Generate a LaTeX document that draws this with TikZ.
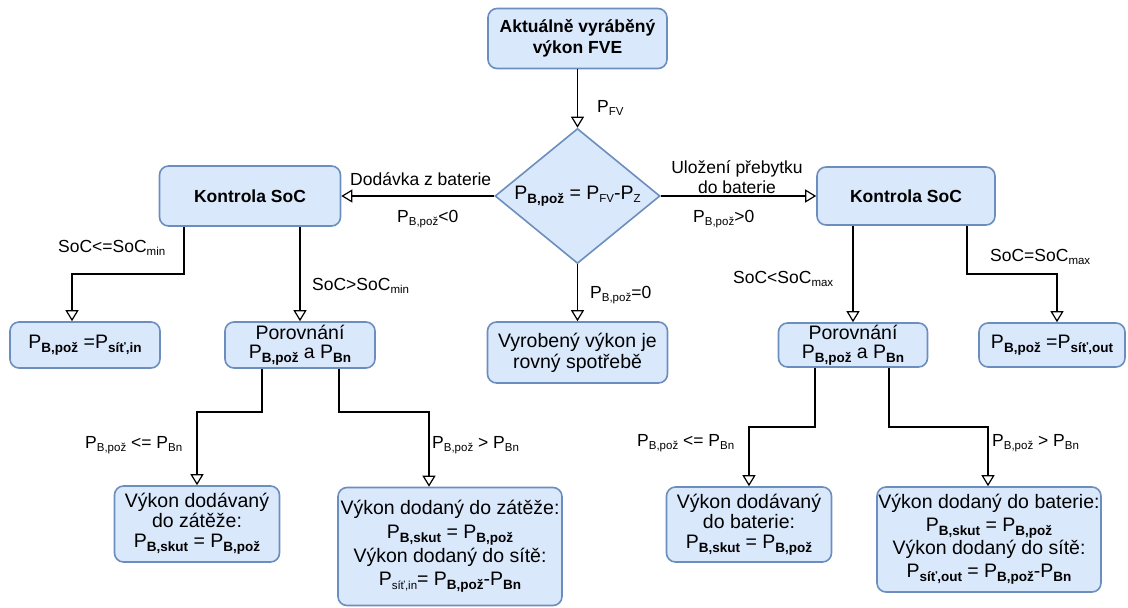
\documentclass[tikz,border=0pt]{standalone}
\usepackage{fontspec}
\setmainfont{Liberation Sans}
\usetikzlibrary{shapes.geometric,arrows.meta}
\definecolor{boxfill}{HTML}{DAE8FC}
\definecolor{boxline}{HTML}{6C8EBF}
% lowered, smaller index text for connector labels
\newcommand\sbx[1]{\raisebox{-3.5pt}{\fontsize{11.5}{11.5}\selectfont #1}}
% lowered, bold index text inside the boxes
\newcommand\sbb[1]{\raisebox{-4pt}{\fontsize{13.5}{13.5}\selectfont\bfseries #1}}

\begin{document}
\begin{tikzpicture}[x=1pt,y=-1pt,
  font=\fontsize{17.5}{20.5}\selectfont,
  box/.style={draw=boxline, fill=boxfill, line width=1.6pt, rounded corners=9pt,
    align=center, font=\fontsize{19.5}{21}\selectfont, inner sep=1pt},
  headbox/.style={box, font=\fontsize{17.5}{21}\selectfont\bfseries},
  decision/.style={diamond, draw=boxline, fill=boxfill, line width=1.6pt,
    inner sep=0pt, label={[font=\fontsize{19.5}{21}\selectfont, inner sep=0pt]center:#1}},
  flow/.style={line width=1.2pt, -{Triangle[open, length=11pt, width=13pt, fill=white]}},
  lbl/.style={inner sep=0pt, align=center}]

\fill[white] (0,0) rectangle (1128,608);
\useasboundingbox (0,0) rectangle (1128,608);

% ---- nodes ----
\node[headbox, minimum width=179pt, minimum height=60pt] (src) at (577.5,38.5) {Aktuálně vyráběný\\výkon FVE};
\node[decision={P\sbb{B,pož} = P\sbx{FV}-P\sbx{Z}}, minimum width=165pt, minimum height=135pt] (dec) at (577.5,196) {};

\node[headbox, minimum width=181pt, minimum height=60pt] (kl) at (250,196) {Kontrola SoC};
\node[headbox, minimum width=178pt, minimum height=58pt] (kr) at (906,196) {Kontrola SoC};

\node[box, minimum width=150pt, minimum height=46pt] (gin) at (85,345) {P\sbb{B,pož} =P\sbb{síť,in}};
\node[box, minimum width=150pt, minimum height=46pt, font=\fontsize{19.5}{19.5}\selectfont] (cl) at (300,345) {Porovnání\\P\sbb{B,pož} a P\sbb{Bn}};
\node[box, minimum width=180pt, minimum height=61pt] (eq) at (577.5,352.5) {Vyrobený výkon je\\rovný spotřebě};
\node[box, minimum width=149pt, minimum height=44pt, font=\fontsize{19.5}{19.5}\selectfont] (cr) at (853,345) {Porovnání\\P\sbb{B,pož} a P\sbb{Bn}};
\node[box, minimum width=146pt, minimum height=44pt] (gout) at (1052,345) {P\sbb{B,pož} =P\sbb{síť,out}};

\node[box, minimum width=165pt, minimum height=76pt, font=\fontsize{19.5}{20}\selectfont] (ll) at (197,524) {Výkon dodávaný\\do zátěže:\\P\sbb{B,skut} = P\sbb{B,pož}};
\node[box, minimum width=224pt, minimum height=118pt] (lr) at (450,546.5)
  {Výkon dodaný do zátěže:\\[3pt]P\sbb{B,skut} = P\sbb{B,pož}\\[2pt]Výkon dodaný do sítě:\\[2pt]P\sbx{síť,in}= P\sbb{B,pož}-P\sbb{Bn}};
\node[box, minimum width=165pt, minimum height=75pt, font=\fontsize{19.5}{20}\selectfont] (rl) at (749,524.5) {Výkon dodávaný\\do baterie:\\P\sbb{B,skut} = P\sbb{B,pož}};
\node[box, minimum width=224pt, minimum height=105pt] (rr) at (989,539.5)
  {Výkon dodaný do baterie:\\[2pt]P\sbb{B,skut} = P\sbb{B,pož}\\[1pt]Výkon dodaný do sítě:\\[2pt]P\sbb{síť,out} = P\sbb{B,pož}-P\sbb{Bn}};

% ---- bend points ----
\coordinate (klA) at (184,274);  \coordinate (klB) at (72,274);
\coordinate (krA) at (967,274);  \coordinate (krB) at (1057,274);
\coordinate (clA) at (262,412);  \coordinate (clB) at (197,412);
\coordinate (clC) at (339,412);  \coordinate (clD) at (429,412);
\coordinate (crA) at (815,427);  \coordinate (crB) at (749,427);
\coordinate (crC) at (889,427);  \coordinate (crD) at (988,427);

% ---- connectors ----
\draw[flow] (src.south) -- (dec.north);
\draw[flow] (dec.west) -- (kl.east);
\draw[flow] (dec.east) -- (kr.west);
\draw[flow] (dec.south) -- (eq.north);

\draw[flow] (kl.south -| klA) -- (klA) -- (klB) -- (klB |- gin.north);
\draw[flow] (kl.south -| cl.north) -- (cl.north);
\draw[flow] (kr.south -| cr.north) -- (cr.north);
\draw[flow] (kr.south -| krA) -- (krA) -- (krB) -- (krB |- gout.north);

\draw[flow] (cl.south -| clA) -- (clA) -- (clB) -- (ll.north);
\draw[flow] (cl.south -| clC) -- (clC) -- (clD) -- (clD |- lr.north);
\draw[flow] (cr.south -| crA) -- (crA) -- (crB) -- (rl.north);
\draw[flow] (cr.south -| crC) -- (crC) -- (crD) -- (crD |- rr.north);

% ---- connector labels ----
\node[lbl, anchor=base west] (tpfv) at (597,112) {P\sbx{FV}};
\node[lbl, anchor=base west] (tdod) at (350,185) {Dodávka z baterie};
\node[lbl, anchor=base west] (tneg) at (397,222) {P\sbx{B,pož}<0};
\node[lbl] (tulo) at (737,177) {Uložení přebytku\\do baterie};
\node[lbl, anchor=base west] (tpos) at (693,222) {P\sbx{B,pož}>0};
\node[lbl, anchor=base west] (tzero) at (590,298) {P\sbx{B,pož}=0};
\node[lbl, anchor=base west] (tmin1) at (58,252) {SoC<=SoC\sbx{min}};
\node[lbl, anchor=base west] (tmin2) at (312,290) {SoC>SoC\sbx{min}};
\node[lbl, anchor=base west] (tmax1) at (733,283) {SoC<SoC\sbx{max}};
\node[lbl, anchor=base west] (tmax2) at (990,261) {SoC=SoC\sbx{max}};
\node[lbl, anchor=base west] (tle1) at (85,448) {P\sbx{B,pož} <= P\sbx{Bn}};
\node[lbl, anchor=base west] (tgt1) at (432,448) {P\sbx{B,pož} > P\sbx{Bn}};
\node[lbl, anchor=base west] (tle2) at (637,446) {P\sbx{B,pož} <= P\sbx{Bn}};
\node[lbl, anchor=base west] (tgt2) at (992,446) {P\sbx{B,pož} > P\sbx{Bn}};
\end{tikzpicture}
\end{document}
